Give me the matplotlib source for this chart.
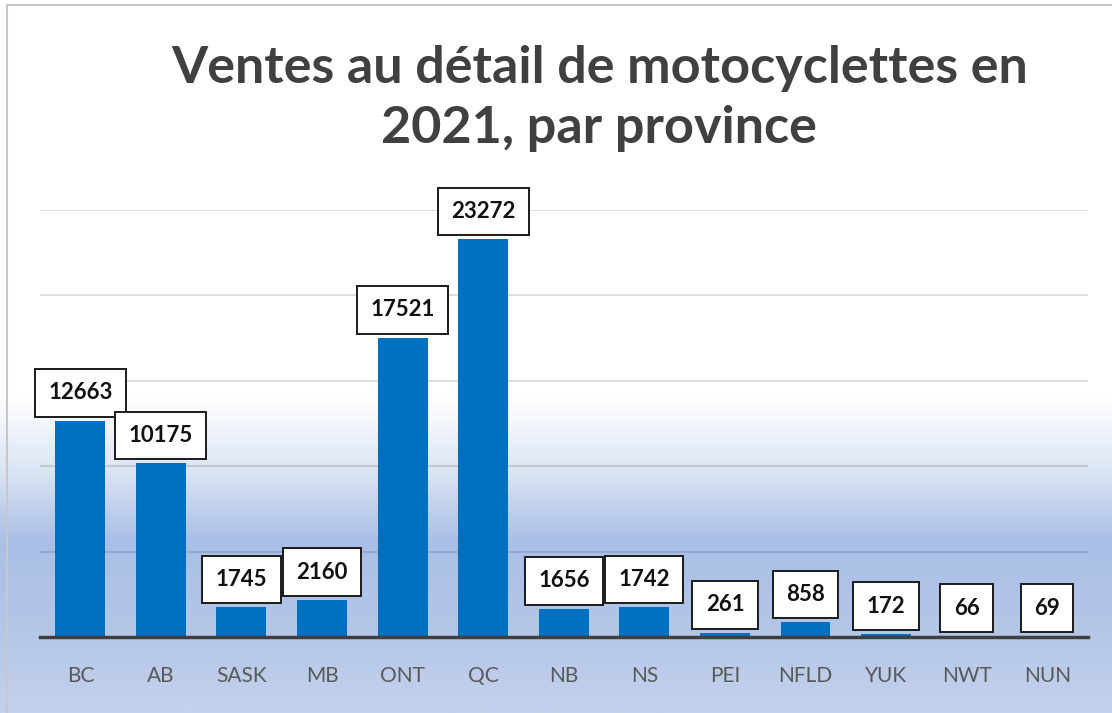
import matplotlib
matplotlib.use('Agg')
import matplotlib.pyplot as plt
import numpy as np
from matplotlib.colors import LinearSegmentedColormap
from matplotlib.lines import Line2D

plt.rcParams['font.family'] = ['Lato', 'DejaVu Sans']

provinces = ['BC', 'AB', 'SASK', 'MB', 'ONT', 'QC', 'NB', 'NS', 'PEI', 'NFLD', 'YUK', 'NWT', 'NUN']
sales = [12663, 10175, 1745, 2160, 17521, 23272, 1656, 1742, 261, 858, 172, 66, 69]
yticks = [0, 5000, 10000, 15000, 20000, 25000]

def main():
    fig = plt.figure(figsize=(11.12, 7.13), dpi=100)

    # background gradient: white at top, light blue toward the bottom
    bg = fig.add_axes([0, 0, 1, 1], zorder=-10)
    cmap = LinearSegmentedColormap.from_list('bg', [
        (0.0, '#ffffff'), (0.56, '#ffffff'), (0.66, '#dce5f4'),
        (0.76, '#a9bfe6'), (0.88, '#b3c6e8'), (1.0, '#c3d2ec')])
    grad = np.linspace(0, 1, 400).reshape(-1, 1)
    bg.imshow(grad, aspect='auto', cmap=cmap, extent=[0, 1, 0, 1], origin='upper')
    bg.set_xlim(0, 1)
    bg.set_ylim(0, 1)
    bg.axis('off')
    # thin frame on left / top
    bg.add_line(Line2D([0.006, 0.006], [0, 0.993], color='#c8c8c8', lw=1.5))
    bg.add_line(Line2D([0.006, 1], [0.993, 0.993], color='#c8c8c8', lw=1.5))

    ax = fig.add_axes([0.036, 0.1066, 0.942, 0.599])
    ax.patch.set_alpha(0)
    x = np.arange(len(provinces))
    ax.bar(x, sales, width=0.62, color='#0070c0', zorder=3)

    for xi, v in zip(x, sales):
        ax.annotate(str(v), (xi, v), xytext=(0, 20), textcoords='offset points',
                    ha='center', va='center', fontsize=16, fontweight='bold', color='#111111',
                    bbox=dict(boxstyle='square,pad=0.6', fc='white', ec='#1a1a1a', lw=1.4),
                    zorder=5, annotation_clip=False)

    ax.set_xlim(-0.5, len(provinces) - 0.5)
    ax.set_ylim(0, 25000)
    ax.set_yticks(yticks)
    ax.yaxis.grid(True, color='#404040', alpha=0.2, linewidth=1.2)
    ax.set_axisbelow(True)
    ax.tick_params(axis='y', left=False, labelleft=False)
    ax.set_xticks(x)
    ax.set_xticklabels(provinces, fontsize=15, color='#595959')
    ax.tick_params(axis='x', length=0, pad=21)
    for s in ['top', 'right', 'left']:
        ax.spines[s].set_visible(False)
    ax.spines['bottom'].set_color('#404040')
    ax.spines['bottom'].set_linewidth(2.5)
    ax.spines['bottom'].set_zorder(4)

    fig.text(0.539, 0.862, 'Ventes au détail de motocyclettes en\n2021, par province',
             ha='center', va='center', fontsize=37.5, fontweight='bold', color='#404040',
             linespacing=1.33)

    fig.savefig('out.png', dpi=100)

if __name__ == '__main__':
    main()
